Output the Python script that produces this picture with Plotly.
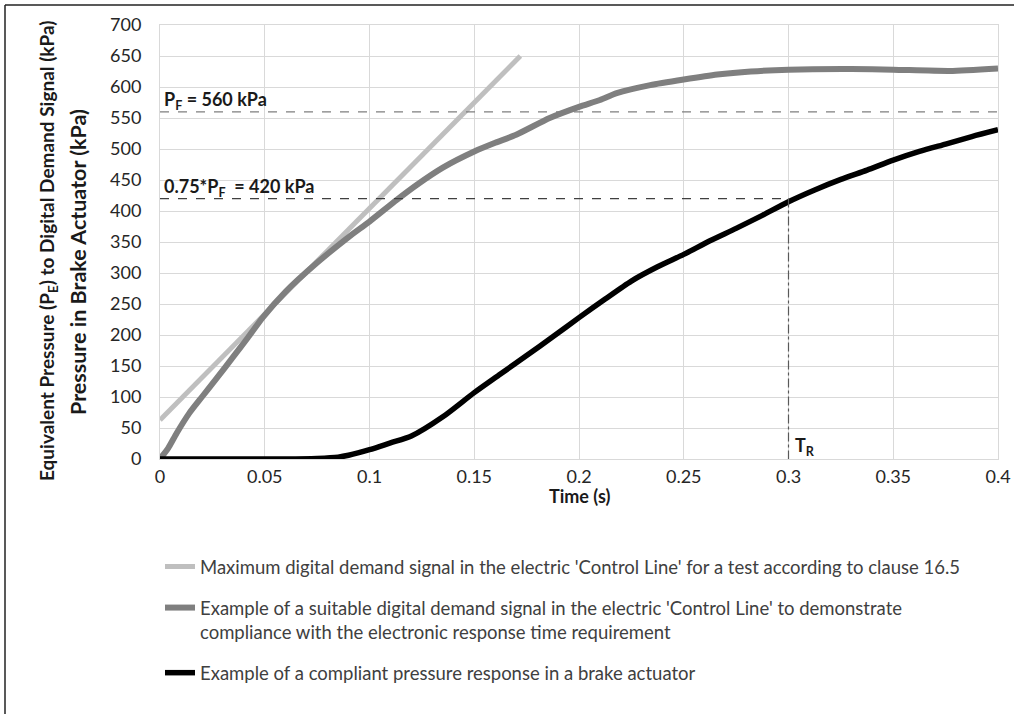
import plotly.graph_objects as go

# ---------------- data ----------------
max_t = [0.0, 0.172]
max_p = [63, 650]

demand_t = [0.0, 0.004, 0.008, 0.014, 0.02, 0.027, 0.035, 0.042, 0.049, 0.06, 0.0748,
            0.09, 0.1, 0.113, 0.1225, 0.135, 0.15, 0.16, 0.17, 0.186, 0.2, 0.21, 0.218,
            0.234, 0.25, 0.266, 0.282, 0.3, 0.33, 0.35, 0.377, 0.4]
demand_p = [0, 18, 42, 74, 100, 130, 165, 196, 228, 270, 316,
            358, 383, 418, 442, 470, 496, 510, 523, 550, 568, 579, 590,
            603, 612, 620, 625, 628, 629, 628, 626, 630]

resp_t = [0.0, 0.02, 0.04, 0.06, 0.075, 0.085, 0.09, 0.1, 0.11, 0.12, 0.135, 0.15,
          0.1625, 0.175, 0.1875, 0.2, 0.2125, 0.225, 0.2375, 0.25, 0.2625, 0.275,
          0.2875, 0.3, 0.3125, 0.325, 0.3375, 0.35, 0.3625, 0.375, 0.3875, 0.4]
resp_p = [0, 0, 0, 0, 1, 3, 6, 15, 26, 37, 68, 107,
          137, 167, 197, 228, 258, 287, 310, 330, 352, 372,
          393, 415, 434, 451, 466, 482, 496, 508, 520, 531]

p_full = 560
p_75 = 420
t_r = 0.3

names = [
    "Maximum digital demand signal in the electric 'Control Line' for a test according to clause 16.5",
    "Example of a suitable digital demand signal in the electric 'Control Line' to demonstrate<br>compliance with the electronic response time requirement",
    "Example of a compliant pressure response in a brake actuator",
]

FONT = "Lato"
TXT = "#1a1a1a"

fig = go.Figure()
fig.add_trace(go.Scatter(x=max_t, y=max_p, mode="lines", name=names[0], legendgroup="a",
                         line=dict(color="#BFBFBF", width=5)))
fig.add_trace(go.Scatter(x=demand_t, y=demand_p, mode="lines", name=names[1], legendgroup="b",
                         line=dict(color="#7F7F7F", width=6, shape="spline", smoothing=0.6)))
fig.add_trace(go.Scatter(x=resp_t, y=resp_p, mode="lines", name=names[2], legendgroup="c",
                         line=dict(color="#000000", width=5.5, shape="spline", smoothing=0.7)))

# reference lines
fig.add_trace(go.Scatter(x=[0, 0.4], y=[p_full, p_full], mode="lines", showlegend=False,
                         line=dict(color="#7F7F7F", width=1.3, dash="dash")))
fig.add_trace(go.Scatter(x=[0, t_r], y=[p_75, p_75], mode="lines", showlegend=False,
                         line=dict(color="#404040", width=1.2, dash="dash")))
fig.add_trace(go.Scatter(x=[t_r, t_r], y=[p_75, 0], mode="lines", showlegend=False,
                         line=dict(color="#595959", width=1.2, dash="dashdot")))

annotations = [
    dict(x=0.001, y=579, xref="x", yref="y", text="<b>P<sub>F</sub> = 560 kPa</b>",
         showarrow=False, xanchor="left", yanchor="middle",
         font=dict(family=FONT, size=18, color=TXT)),
    dict(x=0.001, y=438, xref="x", yref="y", text="<b>0.75*P<sub>F</sub>  = 420 kPa</b>",
         showarrow=False, xanchor="left", yanchor="middle",
         font=dict(family=FONT, size=18, color=TXT)),
    dict(x=t_r + 0.002, y=20, xref="x", yref="y", text="<b>T<sub>R</sub></b>",
         showarrow=False, xanchor="left", yanchor="middle",
         font=dict(family=FONT, size=18, color=TXT)),
    dict(x=0.5, y=(459 - 496) / 434, xref="paper", yref="paper", text="<b>Time (s)</b>",
         showarrow=False, xanchor="center", yanchor="middle",
         font=dict(family=FONT, size=18, color=TXT)),
    dict(x=(48 - 160) / 838, y=(459 - 251) / 434, xref="paper", yref="paper",
         text="<b>Equivalent Pressure (P<sub>E</sub>) to Digital Demand Signal (kPa)</b>",
         showarrow=False, textangle=-90, xanchor="center", yanchor="middle",
         font=dict(family=FONT, size=19, color=TXT)),
    dict(x=(78 - 160) / 838, y=(459 - 262) / 434, xref="paper", yref="paper",
         text="<b>Pressure in Brake Actuator (kPa)</b>",
         showarrow=False, textangle=-90, xanchor="center", yanchor="middle",
         font=dict(family=FONT, size=21.5, color=TXT)),
]

shapes = [
    # outer frame (top and left)
    dict(type="line", xref="paper", yref="paper", x0=(5 - 160) / 838, x1=(1014 - 160) / 838,
         y0=(459 - 5) / 434, y1=(459 - 5) / 434, line=dict(color="#222222", width=1.5)),
    dict(type="line", xref="paper", yref="paper", x0=(5 - 160) / 838, x1=(5 - 160) / 838,
         y0=(459 - 5) / 434, y1=(459 - 714) / 434, line=dict(color="#222222", width=1.5)),
]

fig.update_layout(
    width=1014, height=714,
    margin=dict(l=160, r=16, t=25, b=255, autoexpand=False),
    paper_bgcolor="white", plot_bgcolor="white",
    font=dict(family=FONT, size=18, color="#262626"),
    annotations=annotations,
    shapes=shapes,
    legend=dict(x=0, y=(459 - 548) / 434, xanchor="left", yanchor="top",
                traceorder="grouped", tracegroupgap=14, valign="top",
                font=dict(family=FONT, size=18.5, color="#404040"),
                bgcolor="rgba(0,0,0,0)", itemwidth=30),
)
fig.update_xaxes(range=[0, 0.4], dtick=0.05, tick0=0, showgrid=True, gridcolor="#D9D9D9",
                 gridwidth=1, zeroline=False, showline=True, linecolor="#D9D9D9", mirror=True,
                 ticks="", ticklabelstandoff=1, automargin=False,
                 tickfont=dict(family=FONT, size=18, color="#262626"))
fig.update_yaxes(range=[0, 700], dtick=50, tick0=0, showgrid=True, gridcolor="#D9D9D9",
                 gridwidth=1, zeroline=False, showline=True, linecolor="#D9D9D9", mirror=True,
                 ticks="", ticklabelstandoff=14, automargin=False,
                 tickfont=dict(family=FONT, size=18, color="#262626"))

fig.write_html("out.html", config={"displayModeBar": False},
               post_script="document.body.style.margin='0';document.body.style.overflow='hidden';")
